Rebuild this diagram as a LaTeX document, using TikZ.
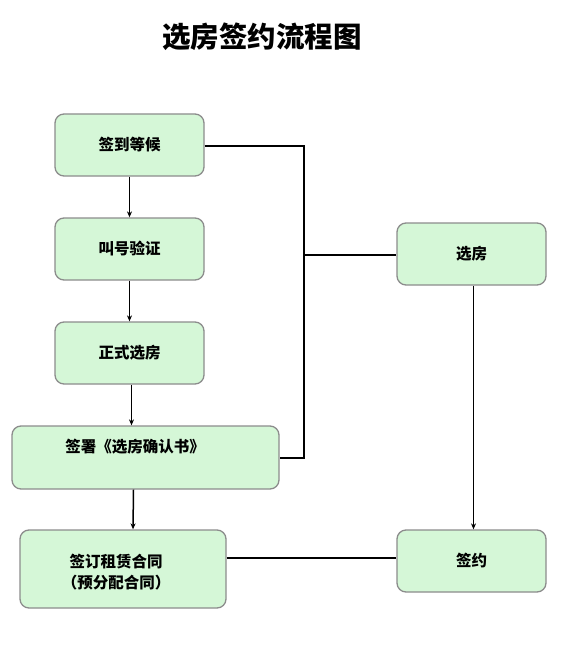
\documentclass[tikz,border=0pt]{standalone}
\usepackage{fontspec}
\newfontfamily\cjk{Noto Sans CJK SC}
\usetikzlibrary{arrows.meta}
\definecolor{boxfill}{HTML}{D5F7D7}
\definecolor{boxline}{HTML}{8C8C8C}
\tikzset{
  stepbox/.style={draw=boxline, line width=1.3pt, fill=boxfill, rounded corners=9pt,
    font=\cjk\bfseries\fontsize{15.5}{21}\selectfont, align=center, inner sep=0pt},
  steptext/.style={font=\cjk\bfseries\fontsize{15.5}{21}\selectfont, align=center, inner sep=0pt},
  link/.style={line width=1.5pt, black},
  flow/.style={link, -{Stealth[length=6pt, width=5pt]}}
}
\begin{document}
\begin{tikzpicture}[x=1pt, y=-1pt]
        % ==== CANVAS ====
        \useasboundingbox (0,0) rectangle (574,647);
        \fill[white] (0,0) rectangle (574,647);

        % ==== TITLE ====
        \node (title) at (262,37) {\cjk\bfseries\fontsize{28.5}{32}\selectfont 选房签约流程图};

        % ==== LEFT COLUMN ====
        \node[stepbox, minimum width=149pt, minimum height=62pt] (wait) at (129.5,145) {签到等候};
        \node[stepbox, minimum width=149pt, minimum height=62pt] (call) at (129.5,249) {叫号验证};
        \node[stepbox, minimum width=149pt, minimum height=62pt] (pick) at (129.5,353) {正式选房};
        \node[stepbox, minimum width=267pt, minimum height=63pt] (confirm) at (145.5,457.5) {};
        \node[steptext] (confirmtext) at (135,447) {签署《选房确认书》};
        \node[stepbox, minimum width=206pt, minimum height=78pt] (lease) at (123,569) {};
        \node[steptext] (leasetext) at (116,572) {签订租赁合同\\（预分配合同）};

        % ==== RIGHT COLUMN ====
        \node[stepbox, minimum width=149pt, minimum height=62pt] (select) at (471.5,254) {选房};
        \node[stepbox, minimum width=149pt, minimum height=62pt] (sign) at (471.5,561) {签约};

        % ==== JUNCTIONS ====
        \coordinate (jtop) at (304,146);
        \coordinate (jmid) at (304,255);
        \coordinate (jbot) at (304,458);

        % ==== ARROWS DOWN ====
        \draw[flow] (wait.south) -- (call.north);
        \draw[flow] (call.south) -- (pick.north);
        \draw[flow] ([xshift=2pt]pick.south) -- ([xshift=-14pt]confirm.north);
        \draw[flow] ([xshift=-12pt]confirm.south) -- ([xshift=10pt]lease.north);
        \draw[flow] ([xshift=2pt]select.south) -- ([xshift=2pt]sign.north);

        % ==== PLAIN LINKS ====
        \draw[link] (wait.east |- jtop) -- (jtop) -- (jbot) -- (confirm.east |- jbot);
        \draw[link] (jmid) -- (select.west |- jmid);
        \draw[link] (lease.east |- 0,558) -- (sign.west |- 0,558);

    \end{tikzpicture}
\end{document}
